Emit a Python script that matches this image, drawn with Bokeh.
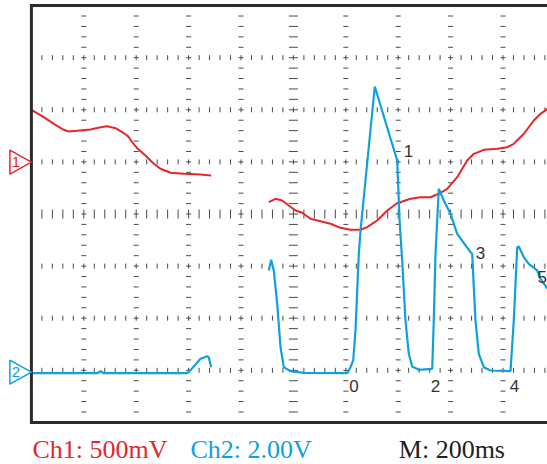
import math
from bokeh.plotting import figure
from bokeh.models import Range1d
from bokeh.core.properties import value
from bokeh.embed import file_html
from bokeh.resources import INLINE

# ---------------- data (screen divisions: x from left edge, 200 ms/div; y from centre) -------------
ch1_a_t = [0.0, 0.237, 0.427, 0.618, 0.714, 0.874, 1.128, 1.319, 1.447, 1.605, 1.733, 1.828, 1.859,
           1.924, 2.019, 2.178, 2.336, 2.464, 2.655, 2.908, 3.227, 3.431]
ch1_a_v = [2.0, 1.858, 1.731, 1.616, 1.583, 1.597, 1.622, 1.666, 1.685, 1.647, 1.570, 1.507, 1.474,
           1.378, 1.263, 1.123, 0.964, 0.868, 0.791, 0.772, 0.758, 0.739]

ch1_b_t = [4.531, 4.658, 4.786, 4.912, 5.040, 5.168, 5.326, 5.517, 5.708, 5.899, 6.090, 6.281, 6.408,
           6.599, 6.790, 6.981, 7.235, 7.426, 7.616, 7.775, 7.935, 8.126, 8.317, 8.443, 8.634, 8.889,
           9.080, 9.206, 9.397, 9.588, 9.716, 9.85]
ch1_b_v = [0.226, 0.292, 0.259, 0.163, 0.067, 0.023, -0.092, -0.138, -0.188, -0.265, -0.303, -0.303,
           -0.253, -0.125, 0.067, 0.207, 0.292, 0.322, 0.322, 0.388, 0.484, 0.706, 1.027, 1.155, 1.232,
           1.251, 1.282, 1.347, 1.539, 1.795, 1.923, 2.019]

ch2_a_t = [0.0, 1.256, 1.319, 1.382, 2.973, 3.069, 3.227, 3.355, 3.385, 3.431]
ch2_a_v = [-3.056, -3.056, -3.018, -3.056, -3.056, -2.960, -2.779, -2.729, -2.749, -2.940]

ch2_b_t = [4.531, 4.576, 4.626, 4.691, 4.754, 4.817, 4.944, 5.198, 6.027, 6.090, 6.141, 6.185, 6.248,
           6.281, 6.553, 6.981, 7.026, 7.076, 7.139, 7.202, 7.267, 7.393, 7.649, 7.679, 7.712, 7.744,
           7.775, 7.870, 7.998, 8.126, 8.380, 8.412, 8.443, 8.475, 8.538, 8.634, 8.761, 9.143, 9.206,
           9.271, 9.302, 9.397, 9.492, 9.653, 9.716, 9.85]
ch2_b_v = [-1.084, -0.879, -1.084, -1.724, -2.557, -2.940, -3.017, -3.048, -3.056, -2.940, -2.812,
           -2.236, -0.764, -0.317, 2.447, 1.027, -0.125, -0.893, -2.044, -2.683, -2.927, -2.990, -2.971,
           -2.044, -0.764, -0.125, 0.484, 0.259, 0.004, -0.380, -0.733, -0.764, -1.405, -2.044, -2.683,
           -2.940, -3.004, -3.017, -2.044, -0.637, -0.624, -0.829, -0.956, -1.084, -1.244, -1.436]

marker_labels = ["1", "3", "5", "0", "2", "4"]
marker_t = [7.197, 8.571, 9.75, 6.157, 7.712, 9.219]
marker_v = [1.200, -0.758, -1.213, -3.301, -3.301, -3.301]

ch1_ref = 0.994   # ground-level marker of channel 1
ch2_ref = -3.036  # ground-level marker of channel 2

footer_texts = ["Ch1: 500mV", "Ch2: 2.00V", "M: 200ms"]

# ---------------- layout -------------
W, H = 547, 464
PXX, PXY = 52.4, 52.1       # pixels per division
LEFT_PX, CENTER_PX = 30.9, 213.5

RED = "#e5262d"
BLUE = "#0fa0de"
DARK = "#2b2b2b"
TICK = "#4a4a4a"

p = figure(width=W, height=H, output_backend="svg", toolbar_location=None,
           x_axis_type=None, y_axis_type=None, min_border=0,
           x_range=Range1d(-LEFT_PX / PXX, (W - LEFT_PX) / PXX),
           y_range=Range1d((CENTER_PX - H) / PXY, CENTER_PX / PXY))
p.outline_line_color = None
p.background_fill_color = "white"
p.border_fill_color = "white"
p.title.visible = False

# graticule ticks
for i in range(1, 10):
    ys = [-4 + 0.2 * k for k in range(1, 40)]
    p.scatter([i] * len(ys), ys, marker="dash", size=9 if i == 5 else 5,
              line_color=TICK, line_width=1)
for j in range(-3, 4):
    xs = [0.2 * k for k in range(1, 50)]
    p.scatter(xs, [j] * len(xs), marker="dash", angle=math.pi / 2, size=9 if j == 0 else 5,
              line_color=TICK, line_width=1)

# traces
p.line(ch1_a_t, ch1_a_v, line_color=RED, line_width=2)
p.line(ch1_b_t, ch1_b_v, line_color=RED, line_width=2)
p.line(ch2_a_t, ch2_a_v, line_color=BLUE, line_width=2.2)
p.line(ch2_b_t, ch2_b_v, line_color=BLUE, line_width=2.2)

# frame (left, top, bottom)
xe = (W - LEFT_PX) / PXX + 0.1
p.line([xe, 0, 0, xe], [4, 4, -4, -4], line_color=DARK, line_width=3, line_join="miter")

# annotations on traces
p.text(marker_t, marker_v, text=marker_labels, text_font=value("Liberation Sans"),
       text_font_size="17px", text_color="#333333", text_align="center", text_baseline="middle")

# channel reference markers
dx, dy = 21.5 / PXX, 12 / PXY
for ref, col, lab in [(ch1_ref, RED, "1"), (ch2_ref, BLUE, "2")]:
    p.patch([-dx, 0, -dx], [ref + dy, ref, ref - dy], fill_color="white", line_color=col,
            line_width=1.5)
    p.text([-15.4 / PXX], [ref], text=[lab], text_font=value("Liberation Sans"),
           text_font_size="15px", text_color=col, text_align="center", text_baseline="middle")

# footer
foot_y = (CENTER_PX - 449) / PXY
p.text([1.0 / PXX, 159 / PXX, 367.4 / PXX], [foot_y] * 3, text=footer_texts,
       text_font=value("Liberation Serif"), text_font_size="26px",
       text_color=[RED, BLUE, "#222222"], text_align="left", text_baseline="middle")

open("out.html", "w").write(file_html(p, INLINE))
